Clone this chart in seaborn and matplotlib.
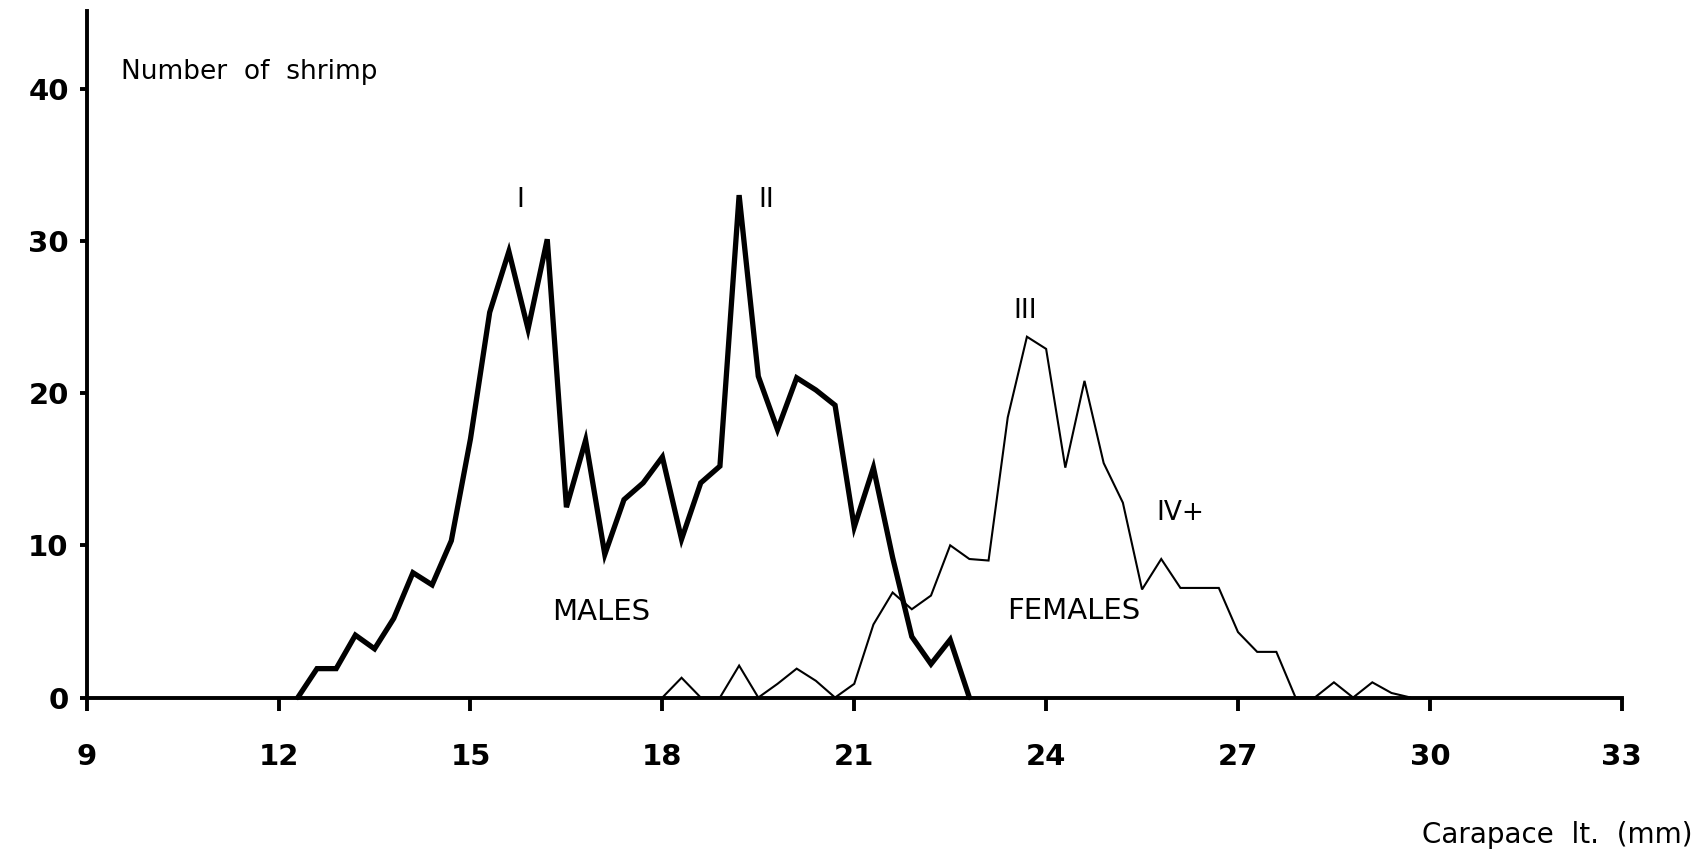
import matplotlib
matplotlib.use("Agg")
import matplotlib.pyplot as plt
import seaborn as sns
import pandas as pd

# ---- data ----
males_length = [12.3, 12.6, 12.9, 13.2, 13.5, 13.8, 14.1, 14.4, 14.7, 15.0,
                15.3, 15.6, 15.9, 16.2, 16.5, 16.8, 17.1, 17.4, 17.7, 18.0,
                18.3, 18.6, 18.9, 19.2, 19.5, 19.8, 20.1, 20.4, 20.7, 21.0,
                21.3, 21.6, 21.9, 22.2, 22.5, 22.8]
males_count = [0, 1.9, 1.9, 4.1, 3.2, 5.2, 8.2, 7.4, 10.3, 17.0,
               25.3, 29.3, 24.2, 30.1, 12.5, 16.9, 9.4, 13.0, 14.1, 15.8,
               10.4, 14.1, 15.2, 33.0, 21.1, 17.6, 21.0, 20.2, 19.2, 11.2,
               15.1, 9.2, 4.0, 2.2, 3.8, 0]

females_length = [18.0, 18.3, 18.6, 18.9, 19.2, 19.5, 19.8, 20.1, 20.4, 20.7,
                  21.0, 21.3, 21.6, 21.9, 22.2, 22.5, 22.8, 23.1, 23.4, 23.7,
                  24.0, 24.3, 24.6, 24.9, 25.2, 25.5, 25.8, 26.1, 26.4, 26.7,
                  27.0, 27.3, 27.6, 27.9, 28.2, 28.5, 28.8, 29.1, 29.4, 29.7]
females_count = [0, 1.3, 0, 0, 2.1, 0, 0.9, 1.9, 1.1, 0,
                 0.9, 4.8, 6.9, 5.8, 6.7, 10.0, 9.1, 9.0, 18.4, 23.7,
                 22.9, 15.1, 20.8, 15.4, 12.8, 7.1, 9.1, 7.2, 7.2, 7.2,
                 4.3, 3.0, 3.0, 0, 0, 1.0, 0, 1.0, 0.3, 0]

x_ticks = [9, 12, 15, 18, 21, 24, 27, 30, 33]
y_ticks = [0, 10, 20, 30, 40]

# cohort labels: (text, x, y)
cohort_labels = [("I", 15.78, 32.7), ("II", 19.62, 32.7),
                 ("III", 23.67, 25.4), ("IV+", 26.1, 12.1)]

# ---- style ----
sns.set_theme(style="white")
plt.rcParams['font.family'] = ['DejaVu Sans']
plt.rcParams['text.color'] = 'black'

fig = plt.figure(figsize=(17.01, 8.58), dpi=100)
ax = fig.add_axes([0.051, 0.187, 0.9024, 0.8003])

males_df = pd.DataFrame({"length": males_length, "count": males_count})
females_df = pd.DataFrame({"length": females_length, "count": females_count})

sns.lineplot(data=females_df, x="length", y="count", ax=ax, color="black",
             linewidth=1.5, clip_on=False, solid_joinstyle="miter")
sns.lineplot(data=males_df, x="length", y="count", ax=ax, color="black",
             linewidth=3.8, clip_on=False, solid_joinstyle="miter")

ax.set_xlim(9, 33)
ax.set_ylim(0, 45.1)
ax.set_xticks(x_ticks)
ax.set_yticks(y_ticks)
ax.set_xticklabels([str(t) for t in x_ticks], fontsize=21, fontweight="bold")
ax.set_yticklabels([str(t) for t in y_ticks], fontsize=21, fontweight="bold")
ax.set_xlabel("")
ax.set_ylabel("")

for side in ["top", "right"]:
    ax.spines[side].set_visible(False)
for side in ["left", "bottom"]:
    ax.spines[side].set_visible(True)
    ax.spines[side].set_color("black")
    ax.spines[side].set_linewidth(2.8)

ax.tick_params(axis="x", direction="out", length=9, width=2.8, pad=24,
               colors="black", bottom=True)
ax.tick_params(axis="y", direction="out", length=5, width=2.8, pad=8,
               colors="black", left=True)

# annotations
ax.text(9.54, 41.1, "Number  of  shrimp", fontsize=19, ha="left", va="center",
        color="black")
for txt, x, y in cohort_labels:
    ax.text(x, y, txt, fontsize=19, ha="center", va="center", color="black")
ax.text(17.05, 5.6, "MALES", fontsize=21, ha="center", va="center", color="black")
ax.text(24.43, 5.7, "FEMALES", fontsize=21, ha="center", va="center", color="black")

fig.text(0.995, 0.027, "Carapace  lt.  (mm)", fontsize=20, ha="right",
         va="center", color="black")

if ax.get_legend() is not None:
    ax.get_legend().remove()

fig.savefig("out.png", dpi=100, facecolor="white")
